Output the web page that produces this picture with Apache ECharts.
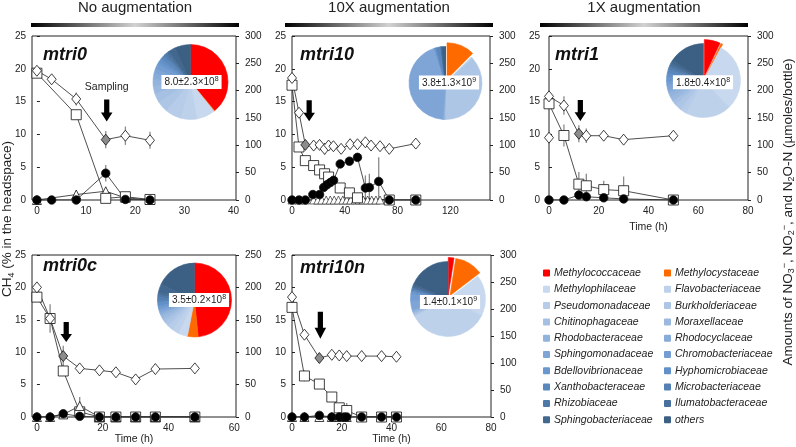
<!DOCTYPE html>
<html><head><meta charset="utf-8">
<script src="https://cdn.jsdelivr.net/npm/echarts@6/dist/echarts.min.js"></script>
<style>html,body{margin:0;padding:0;background:#fff}#c{width:796px;height:447px}</style>
</head><body><div id="c"></div>
<script>
// ---------------- DATA ----------------
const families = ['Methylococcaceae','Methylocystaceae','Methylophilaceae','Flavobacteriaceae','Pseudomonadaceae','Burkholderiaceae','Chitinophagaceae','Moraxellaceae','Rhodobacteraceae','Rhodocyclaceae','Sphingomonadaceae','Chromobacteriaceae','Bdellovibrionaceae','Hyphomicrobiaceae','Xanthobacteraceae','Microbacteriaceae','Rhizobiaceae','Ilumatobacteraceae','Sphingobacteriaceae','others'];
const familyColors = ['#ff0000','#ff6a00','#c8d8ee','#bed1eb','#b6cce8','#adc6e5','#a5c0e2','#9bb9df','#92b3dc','#88acd9','#7ea5d6','#749ed3','#6a97ce','#6290c8','#5a88be','#5480b3','#4e78a8','#48709c','#426890','#3c5f84'];

const pie_mtri0   = [39, 0.3, 8, 7, 7, 5, 4, 3, 3, 2.5, 2, 2, 1.5, 1.5, 1.5, 1, 1, 1, 3, 7];
const pie_mtri10  = [0, 12.5, 0.3, 0.3, 0.3, 37, 0.3, 0.3, 0.3, 0.3, 44, 0.3, 0.3, 0.3, 2, 0.2, 0.2, 0.2, 0.3, 1.4];
const pie_mtri1   = [7, 0.8, 30, 20, 3, 3, 2, 2, 2, 1.5, 2, 1.5, 2, 1.5, 1.5, 1, 1, 1, 1.5, 16];
const pie_mtri0c  = [48.5, 4.7, 4, 3, 2.5, 2, 1.5, 1.5, 1, 1, 1, 1, 1, 1.5, 1, 1, 1, 1, 4, 18];
const pie_mtri10n = [2.5, 12.5, 18, 36, 0.5, 0.5, 0.5, 0.5, 0.5, 0.5, 4, 3, 1, 0.5, 0.5, 0.5, 0.5, 0.5, 1, 19];
const cellCounts = ['8.0±2.3×10', '3.8±1.3×10', '1.8±0.4×10', '3.5±0.2×10', '1.4±0.1×10'];
const cellExp = ['8', '9', '8', '8', '9'];

const panelNames = ['mtri0', 'mtri10', 'mtri1', 'mtri0c', 'mtri10n'];
const columnTitles = ['No augmentation', '10X augmentation', '1X augmentation'];

// mtri0 (CH4 in %, N species in µmol/bottle)
const mtri0_time = [0, 3, 8, 14, 18, 23];
const mtri0_ch4 = [19.7, 18.4, 15.4, 9.2, 9.8, 9.1];
const mtri0_ch4_err = [0, 0, 1.0, 1.3, 1.4, 1.3];
const mtri0_no3_time = [0, 8, 14, 18, 23];
const mtri0_no3 = [232, 156, 3, 6, 1];
const mtri0_no2 = [0, 0, 0, 49, 1, 0];
const mtri0_no2_err = [0, 0, 0, 15, 0, 0];
const mtri0_n2o_time = [0, 8, 14, 18, 23];
const mtri0_n2o = [0, 10, 16, 4, 0];
const mtri0_n2o_err = [0, 0, 6, 0, 0];
const mtri0_sampleIdx = 3;
const mtri0_arrow = [14.2, 13.65];

// mtri10
const mtri10_ch4_time = [0, 5.3, 10.1, 16.4, 20.9, 24.7, 27.7, 31.4, 37.2, 44.0, 49.6, 55.6, 59.9, 66.7, 73.7, 93.8];
const mtri10_ch4 = [18.6, 13.3, 8.4, 8.3, 8.4, 7.8, 8.3, 8.2, 7.8, 8.5, 8.5, 8.8, 8.3, 8.2, 7.8, 8.6];
const mtri10_ch4_err = [0, 0, 0, 0, 0, 0.9, 0.7, 0, 0, 0.7, 0, 0, 0, 0, 0, 0];
const mtri10_no3_time = [0, 5.3, 10.1, 16.4, 20.9, 24.7, 27.7, 36.5, 43.5, 49.6, 73.7, 93.8];
const mtri10_no3 = [210, 97, 72, 63, 55, 48, 42, 22, 13, 4, 0, 0];
const mtri10_no2_time = [0, 5.3, 10.1, 15.8, 20.9, 24.0, 26.5, 29.0, 31.5, 36.5, 43.5, 49.6, 55.6, 58.6, 65.7, 73.7, 93.8];
const mtri10_no2 = [0, 0, 0, 10, 10, 23, 28, 32, 36, 66, 71, 78, 22, 23, 34, 0, 0];
const mtri10_no2_err = [0, 0, 0, 0, 0, 0, 0, 0, 0, 0, 0, 8, 23, 25, 44, 0, 0];
const mtri10_n2o_time = [0, 5.3, 10.1, 16.4, 19.6, 22.6, 25.9, 29.0, 32.0, 35.2, 38.5, 41.5, 44.5, 47.8, 51.0, 54.0, 57.3, 60.4, 63.6, 66.7];
const mtri10_n2o = [0, 0, 0, 0, 0, 0, 0, 0, 0, 0, 0, 0, 0, 0, 0, 0, 0, 0, 0, 0];
const mtri10_sampleIdx = 2;
const mtri10_arrow = [13, 13.6];

// mtri1
const mtri1_time = [0, 6, 12, 15, 22, 30, 50];
const mtri1_ch4 = [15.8, 14.4, 10.1, 9.8, 9.8, 9.2, 9.8];
const mtri1_ch4_err = [0, 1.4, 1.3, 1.1, 0, 0, 0];
const mtri1_ch4b_time = [0];
const mtri1_ch4b = [9.5];
const mtri1_no3 = [176, 118, 29, 26, 19, 17, 0];
const mtri1_no3_err = [0, 20, 22, 22, 16, 26, 0];
const mtri1_no2 = [0, 0, 9, 6, 4, 2, 0];
const mtri1_sampleIdx = 2;
const mtri1_arrow = [12.6, 13.65];

// mtri0c
const mtri0c_time = [0, 4, 8, 13, 19, 24, 30, 36, 48];
const mtri0c_ch4 = [20.0, 15.2, 9.4, 7.5, 7.2, 6.9, 5.8, 7.4, 7.5];
const mtri0c_ch4_err = [0, 0, 1.6, 0, 0, 0, 0, 0, 0];
const mtri0c_no3 = [185, 152, 71, 8, 0, 0, 0, 0, 0];
const mtri0c_no3_err = [0, 22, 0, 0, 0, 0, 0, 0, 0];
const mtri0c_no2 = [0, 0, 5, 1, 0, 0, 0, 0, 0];
const mtri0c_n2o = [0, 0, 4, 17, 0, 0, 0, 0, 0];
const mtri0c_n2o_err = [0, 0, 0, 14, 0, 0, 0, 0, 0];
const mtri0c_sampleIdx = 2;
const mtri0c_arrow = [8.9, 13.1];

// mtri10n
const mtri10n_time = [0, 5, 11, 16, 19, 22, 28, 36, 42];
const mtri10n_ch4 = [18.5, 12.7, 9.1, 9.6, 9.5, 9.4, 9.4, 9.4, 9.3];
const mtri10n_no3 = [203, 76, 61, 37, 17, 12, 0, 0, 0];
const mtri10n_no3_err = [0, 10, 0, 0, 0, 14, 0, 0, 0];
const mtri10n_no2_time = [0, 5, 11, 16, 19, 21, 22, 28, 36, 42];
const mtri10n_no2 = [0, 0, 3, 0, 0, 0, 0, 0, 0, 0];
const mtri10n_n2o = [0, 0, 0, 0, 0, 0, 0, 0, 0];
const mtri10n_sampleIdx = 2;
const mtri10n_arrow = [11.4, 14.15];

// ---------------- LAYOUT / STYLE ----------------
const FONT = "'Liberation Sans', Arial, sans-serif";
const TXT = '#222';
const panels = [
  {grid:{left:32, top:36, width:204, height:164}, xMin:-1, xMax:40.5, xVals:[0,10,20,30,40], rMax:300, timeName:false, arrowH:22, yMargin:6},
  {grid:{left:292, top:36, width:198, height:164}, xMin:0, xMax:150, xVals:[0,40,80,120], rMax:300, timeName:false, arrowH:21, yMargin:6},
  {grid:{left:549, top:36, width:199, height:164}, xMin:0, xMax:80, xVals:[0,20,40,60,80], rMax:300, timeName:true, nameGap:22, arrowH:21, yMargin:9},
  {grid:{left:32, top:255, width:204, height:162}, xMin:-1.5, xMax:60.5, xVals:[0,20,40,60], rMax:250, timeName:true, nameGap:17, arrowH:20, yMargin:6},
  {grid:{left:292, top:255, width:199, height:162}, xMin:0, xMax:80, xVals:[0,20,40,60,80], rMax:300, timeName:true, nameGap:17, arrowH:27, yMargin:6}
];
const pieGeo = [
  {c:[190.5, 82], r:37.5, ex:[]},
  {c:[445.5, 83], r:36.5, ex:['Methylocystaceae']},
  {c:[703.5, 80.5], r:37, ex:['Methylococcaceae','Methylocystaceae']},
  {c:[194.5, 300], r:37, ex:[]},
  {c:[448, 299], r:37.5, ex:['Methylococcaceae','Methylocystaceae']}
];
const boxPos = [[191.5, 82], [449, 82.5], [703, 82.3], [199, 300], [450, 302]];
const labelPos = [[43, 55], [300, 55], [555, 55], [43, 266], [300, 268]];

const xAxes = [], yAxes = [];
panels.forEach((p, i) => {
  xAxes.push({
    type:'value', gridIndex:i, min:p.xMin, max:p.xMax,
    axisLine:{show:false}, axisTick:{show:false}, splitLine:{show:false},
    axisLabel:{customValues:p.xVals, fontSize:10, color:TXT, fontFamily:FONT, margin:6},
    name: p.timeName ? 'Time (h)' : '', nameLocation:'middle', nameGap:p.nameGap || 20,
    nameTextStyle:{fontSize:10.5, color:TXT, fontFamily:FONT}
  });
  yAxes.push({
    type:'value', gridIndex:i, min:0, max:25, interval:5, position:'left',
    axisLine:{show:false}, splitLine:{show:false},
    axisTick:{show:true, inside:true, length:3, lineStyle:{color:'#222'}},
    axisLabel:{fontSize:10, color:TXT, fontFamily:FONT, margin:p.yMargin}
  });
  yAxes.push({
    type:'value', gridIndex:i, min:0, max:p.rMax, interval:50, position:'right',
    axisLine:{show:false}, splitLine:{show:false},
    axisTick:{show:true, inside:false, length:3, lineStyle:{color:'#222'}},
    axisLabel:{fontSize:10, color:TXT, fontFamily:FONT, margin:9}
  });
});

const series = [];
function pts(t, v) { return t.map((x, i) => [x, v[i]]); }
function errS(gi, right, t, v, e) {
  const d = [];
  t.forEach((x, i) => { if (e[i] > 0) d.push([x, v[i] - e[i], v[i] + e[i]]); });
  series.push({
    type:'custom', xAxisIndex:gi, yAxisIndex:gi*2 + (right?1:0), data:d, silent:true, z:1,
    renderItem:(params, api) => {
      const x = api.value(0);
      const a = api.coord([x, Math.max(0, api.value(1))]);
      const b = api.coord([x, api.value(2)]);
      return {type:'line', shape:{x1:a[0], y1:a[1], x2:b[0], y2:b[1]}, style:{stroke:'#8a8a8a', lineWidth:1.3}};
    }
  });
}
function lineS(gi, right, t, v, symbol, size, fill, sampleIdx, noLine, bw) {
  const data = pts(t, v).map((d, i) => i === sampleIdx ? {value:d, itemStyle:{color:'#8c8c8c'}} : d);
  series.push({
    type:'line', xAxisIndex:gi, yAxisIndex:gi*2 + (right?1:0), data,
    symbol, symbolSize:size, showSymbol:true, showAllSymbol:true, silent:true, z:2,
    lineStyle:{color:'#222', width: noLine ? 0 : 0.8},
    itemStyle:{color:fill, borderColor:'#111', borderWidth:bw || 0.8, opacity:1},
    emphasis:{disabled:true}
  });
}
const DIA = [9, 11], SQ = 10, CIR = 8.5, TRI = 9;
const ARROW = 'path://M3,0L8,0L8,13L11,13L5.5,22L0,13L3,13Z';
function arrowS(gi, pos, h, label) {
  series.push({
    type:'scatter', xAxisIndex:gi, yAxisIndex:gi*2, data:[pos], symbol:ARROW, symbolSize:[11.5, h],
    itemStyle:{color:'#000', opacity:1}, silent:true, z:3,
    label: label ? {show:true, position:'top', distance:7, formatter:label, fontSize:10.5, color:TXT, fontFamily:FONT} : {show:false}
  });
}

// mtri0
errS(0, false, mtri0_time, mtri0_ch4, mtri0_ch4_err);
errS(0, true, mtri0_time, mtri0_no2, mtri0_no2_err);
errS(0, true, mtri0_n2o_time, mtri0_n2o, mtri0_n2o_err);
lineS(0, true, mtri0_n2o_time, mtri0_n2o, 'triangle', TRI, '#fff');
lineS(0, true, mtri0_no3_time, mtri0_no3, 'rect', SQ, '#fff');
lineS(0, true, mtri0_time, mtri0_no2, 'circle', CIR, '#000');
lineS(0, false, mtri0_time, mtri0_ch4, 'diamond', DIA, '#fff', mtri0_sampleIdx);
arrowS(0, mtri0_arrow, panels[0].arrowH, 'Sampling');

// mtri10
errS(1, false, mtri10_ch4_time, mtri10_ch4, mtri10_ch4_err);
errS(1, true, mtri10_no2_time, mtri10_no2, mtri10_no2_err);
lineS(1, true, mtri10_n2o_time, mtri10_n2o, 'triangle', 8, '#fff', -1, false, 0.6);
lineS(1, true, mtri10_no3_time, mtri10_no3, 'rect', SQ, '#fff');
lineS(1, true, mtri10_no2_time, mtri10_no2, 'circle', CIR, '#000');
lineS(1, false, mtri10_ch4_time, mtri10_ch4, 'diamond', DIA, '#fff', mtri10_sampleIdx);
arrowS(1, mtri10_arrow, panels[1].arrowH);

// mtri1
errS(2, false, mtri1_time, mtri1_ch4, mtri1_ch4_err);
errS(2, true, mtri1_time, mtri1_no3, mtri1_no3_err);
lineS(2, true, mtri1_time, mtri1_no3, 'rect', SQ, '#fff');
lineS(2, true, mtri1_time, mtri1_no2, 'circle', CIR, '#000');
lineS(2, false, mtri1_time, mtri1_ch4, 'diamond', DIA, '#fff', mtri1_sampleIdx);
lineS(2, false, mtri1_ch4b_time, mtri1_ch4b, 'diamond', DIA, '#fff', -1, true);
arrowS(2, mtri1_arrow, panels[2].arrowH);

// mtri0c
errS(3, false, mtri0c_time, mtri0c_ch4, mtri0c_ch4_err);
errS(3, true, mtri0c_time, mtri0c_no3, mtri0c_no3_err);
errS(3, true, mtri0c_time, mtri0c_n2o, mtri0c_n2o_err);
lineS(3, true, mtri0c_time, mtri0c_no3, 'rect', SQ, '#fff');
lineS(3, true, mtri0c_time, mtri0c_n2o, 'triangle', TRI, '#fff');
lineS(3, true, mtri0c_time, mtri0c_no2, 'circle', CIR, '#000');
lineS(3, false, mtri0c_time, mtri0c_ch4, 'diamond', DIA, '#fff', mtri0c_sampleIdx);
arrowS(3, mtri0c_arrow, panels[3].arrowH);

// mtri10n
errS(4, true, mtri10n_time, mtri10n_no3, mtri10n_no3_err);
lineS(4, true, mtri10n_time, mtri10n_n2o, 'triangle', TRI, '#fff');
lineS(4, true, mtri10n_time, mtri10n_no3, 'rect', SQ, '#fff');
lineS(4, true, mtri10n_no2_time, mtri10n_no2, 'circle', CIR, '#000');
lineS(4, false, mtri10n_time, mtri10n_ch4, 'diamond', DIA, '#fff', mtri10n_sampleIdx);
arrowS(4, mtri10n_arrow, panels[4].arrowH);

// pies
[pie_mtri0, pie_mtri10, pie_mtri1, pie_mtri0c, pie_mtri10n].forEach((vals, i) => {
  const g = pieGeo[i];
  series.push({
    type:'pie', center:g.c, radius:g.r, startAngle:90, clockwise:true, silent:true,
    selectedMode:'multiple', selectedOffset:4, avoidLabelOverlap:false,
    label:{show:false}, labelLine:{show:false}, emphasis:{disabled:true}, z:4,
    data: families.map((f, k) => ({name:f, value:vals[k], selected:g.ex.includes(f),
      itemStyle:{color:familyColors[k], borderColor:familyColors[k], borderWidth:0.6}}))
  });
});

// ---------------- GRAPHICS ----------------
const rich = (size) => ({
  n:{fontSize:size, fontFamily:FONT, fill:TXT, lineHeight:size + 3},
  sb:{fontSize:Math.round(size*0.66), fontFamily:FONT, fill:TXT, lineHeight:5, verticalAlign:'bottom'},
  sp:{fontSize:Math.round(size*0.66), fontFamily:FONT, fill:TXT, lineHeight:5, verticalAlign:'top'}
});
const graphic = [];
const barX = [[31, 239], [285, 493], [540, 748]];
barX.forEach((b, i) => {
  graphic.push({type:'rect', shape:{x:b[0], y:23, width:b[1]-b[0], height:4},
    style:{fill:{type:'linear', x:0, y:0, x2:1, y2:0, colorStops:[{offset:0, color:'#000'},{offset:0.5, color:'#d2d2d2'},{offset:1, color:'#000'}]}}});
  graphic.push({type:'text', x:(b[0]+b[1])/2, y:8, style:{text:columnTitles[i], fontSize:15, fontFamily:FONT, fill:TXT, align:'center', verticalAlign:'middle'}});
});
panelNames.forEach((n, i) => {
  graphic.push({type:'text', x:labelPos[i][0], y:labelPos[i][1], style:{text:n, fontSize:18, fontWeight:'bold', fontStyle:'italic', fontFamily:FONT, fill:'#111', verticalAlign:'middle'}});
  graphic.push({type:'text', x:boxPos[i][0], y:boxPos[i][1], z:200,
    style:{text:'{n|' + cellCounts[i] + '}{sp|' + cellExp[i] + '}', rich:rich(10), backgroundColor:'#fff', padding:[1,3,0,3], align:'center', verticalAlign:'middle'}});
});
graphic.push({type:'text', x:7.5, y:219, rotation:Math.PI/2,
  style:{text:'{n|CH}{sb|4}{n| (% in the headspace)}', rich:rich(13.5), align:'center', verticalAlign:'middle'}});
graphic.push({type:'text', x:788, y:212, rotation:Math.PI/2,
  style:{text:'{n|Amounts of NO}{sb|3}{sp|−}{n|, NO}{sb|2}{sp|−}{n|, and N}{sb|2}{n|O-N (µmoles/bottle)}', rich:rich(13.5), align:'center', verticalAlign:'middle'}});

const legendBase = {orient:'vertical', top:267, itemWidth:5, itemHeight:5, itemGap:4.3, icon:'rect', padding:0, selectedMode:false,
  textStyle:{fontSize:10.5, fontStyle:'italic', color:TXT, fontFamily:FONT, lineHeight:12}};
const col1 = families.filter((f, i) => i % 2 === 0), col2 = families.filter((f, i) => i % 2 === 1);

const option = {
  animation:false,
  backgroundColor:'#fff',
  grid: panels.map(p => Object.assign({show:true, borderColor:'#222', borderWidth:1, backgroundColor:'transparent', containLabel:false}, p.grid)),
  xAxis:xAxes, yAxis:yAxes,
  legend:[Object.assign({left:543, data:col1}, legendBase), Object.assign({left:664, data:col2}, legendBase)],
  series, graphic
};
const chart = echarts.init(document.getElementById('c'));
chart.setOption(option);
</script></body></html>
